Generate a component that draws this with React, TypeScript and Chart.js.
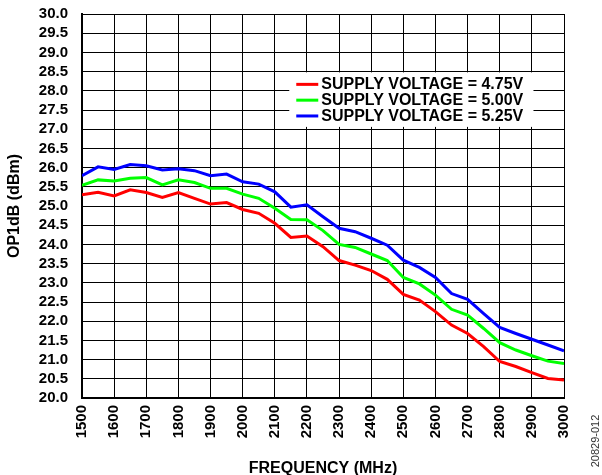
import React, { useEffect, useRef } from "react";
import { Chart, registerables } from "chart.js";

Chart.register(...registerables);

const frequencies = [
  1500, 1550, 1600, 1650, 1700, 1750, 1800, 1850, 1900, 1950, 2000, 2050, 2100, 2150, 2200, 2250,
  2300, 2350, 2400, 2450, 2500, 2550, 2600, 2650, 2700, 2750, 2800, 2850, 2900, 2950, 3000,
];
const op1dB_475 = [
  25.29, 25.36, 25.26, 25.42, 25.35, 25.22, 25.35, 25.2, 25.05, 25.09, 24.91, 24.81, 24.55, 24.18, 24.22, 23.94,
  23.58, 23.46, 23.32, 23.09, 22.7, 22.55, 22.25, 21.9, 21.68, 21.34, 20.95, 20.82, 20.66, 20.51, 20.47,
];
const op1dB_500 = [
  25.54, 25.68, 25.65, 25.72, 25.74, 25.55, 25.68, 25.61, 25.46, 25.46, 25.31, 25.2, 24.94, 24.65, 24.64, 24.36,
  24.0, 23.92, 23.75, 23.58, 23.14, 22.97, 22.68, 22.31, 22.16, 21.81, 21.44, 21.25, 21.1, 20.96, 20.9,
];
const op1dB_525 = [
  25.79, 26.02, 25.95, 26.08, 26.05, 25.94, 25.97, 25.92, 25.79, 25.83, 25.63, 25.57, 25.37, 24.97, 25.03, 24.72,
  24.42, 24.33, 24.16, 23.98, 23.59, 23.4, 23.14, 22.72, 22.57, 22.2, 21.84, 21.68, 21.53, 21.38, 21.23,
];
const seriesLabels = ["SUPPLY VOLTAGE = 4.75V", "SUPPLY VOLTAGE = 5.00V", "SUPPLY VOLTAGE = 5.25V"];
const seriesColors = ["#ff0000", "#00ff00", "#0000ff"];
const xTitle = "FREQUENCY (MHz)";
const yTitle = "OP1dB (dBm)";
const stampText = "20829-012";

const FONT = "'Liberation Sans', Arial, Helvetica, sans-serif";

const legendPlugin = {
  id: "insideLegend",
  afterDatasetsDraw(chart: any) {
    const { ctx, scales } = chart;
    const xs = scales.x;
    const ys = scales.y;
    const left = xs.getPixelForValue(2145);
    const right = xs.getPixelForValue(2905);
    const top = ys.getPixelForValue(28.48);
    const bottom = ys.getPixelForValue(27.06);
    ctx.save();
    ctx.fillStyle = "#ffffff";
    ctx.fillRect(left, top, right - left, bottom - top);
    ctx.font = `bold 16px ${FONT}`;
    ctx.textBaseline = "middle";
    ctx.textAlign = "left";
    chart.data.datasets.forEach((ds: any, i: number) => {
      const y = top + 12 + i * 15.8;
      ctx.strokeStyle = ds.borderColor;
      ctx.lineWidth = 3;
      ctx.beginPath();
      ctx.moveTo(left + 7, y);
      ctx.lineTo(left + 29, y);
      ctx.stroke();
      ctx.fillStyle = "#000";
      ctx.fillText(ds.label, left + 32, y + 0.5);
    });
    ctx.restore();
  },
  afterDraw(chart: any) {
    const { ctx } = chart;
    ctx.save();
    ctx.translate(596, 441);
    ctx.rotate(-Math.PI / 2);
    ctx.font = `11px ${FONT}`;
    ctx.fillStyle = "#333";
    ctx.textAlign = "center";
    ctx.textBaseline = "middle";
    ctx.fillText(stampText, 0, 0);
    ctx.restore();
  },
};

export default function App() {
  const canvasRef = useRef<HTMLCanvasElement | null>(null);

  useEffect(() => {
    const canvas = canvasRef.current;
    if (!canvas) return;
    const datasets = [op1dB_475, op1dB_500, op1dB_525].map((vals, i) => ({
      label: seriesLabels[i],
      data: frequencies.map((f, j) => ({ x: f, y: vals[j] })),
      borderColor: seriesColors[i],
      backgroundColor: seriesColors[i],
      borderWidth: 3,
      pointRadius: 0,
      tension: 0,
      fill: false,
    }));
    const chart = new Chart(canvas, {
      type: "line",
      data: { datasets },
      plugins: [legendPlugin],
      options: {
        responsive: false,
        animation: false,
        layout: { padding: { left: 0, right: 38, top: 14, bottom: 0 } },
        plugins: { legend: { display: false }, tooltip: { enabled: false } },
        scales: {
          x: {
            type: "linear",
            min: 1500,
            max: 3000,
            afterFit: (s: any) => {
              s.height = 77;
              s.paddingLeft = 0;
              s.paddingRight = 0;
            },
            ticks: {
              stepSize: 100,
              autoSkip: false,
              minRotation: 90,
              maxRotation: 90,
              padding: 7,
              color: "#000",
              font: { family: FONT, size: 15, weight: "bold" },
              callback: (v: any) => String(v),
            },
            grid: { color: "#000", lineWidth: 1, drawTicks: false },
            border: { color: "#000", width: 2 },
            title: {
              display: true,
              text: xTitle,
              color: "#000",
              font: { family: FONT, size: 16, weight: "bold" },
              padding: { top: 0, bottom: -3 },
            },
          },
          y: {
            type: "linear",
            min: 20,
            max: 30,
            afterFit: (s: any) => {
              s.width = 82;
              s.paddingTop = 0;
              s.paddingBottom = 0;
            },
            ticks: {
              stepSize: 0.5,
              autoSkip: false,
              padding: 14,
              color: "#000",
              font: { family: FONT, size: 15, weight: "bold" },
              callback: (v: any) => Number(v).toFixed(1),
            },
            grid: { color: "#000", lineWidth: 1, drawTicks: false },
            border: { color: "#000", width: 2 },
            title: {
              display: true,
              text: yTitle,
              color: "#000",
              font: { family: FONT, size: 16, weight: "bold" },
              padding: { top: 5, bottom: 0 },
            },
          },
        },
      },
    } as any);
    return () => chart.destroy();
  }, []);

  return (
    <div style={{ position: "absolute", left: 0, top: 0, width: 602, height: 475, background: "#fff" }}>
      <canvas ref={canvasRef} width={602} height={475} style={{ display: "block" }} />
    </div>
  );
}
